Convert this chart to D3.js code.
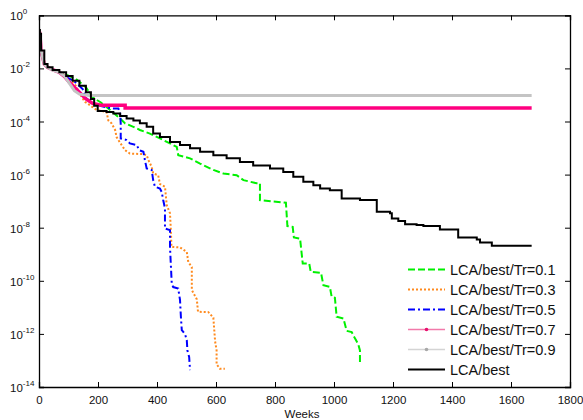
<!DOCTYPE html>
<html>
<head>
<meta charset="utf-8">
<script src="https://cdn.jsdelivr.net/npm/d3@7"></script>
<style>
  html, body { margin: 0; padding: 0; background: #fff; }
  svg { display: block; font-family: "Liberation Sans", Arial, sans-serif; }
</style>
</head>
<body>
<svg id="chart" width="583" height="420"></svg>
<script>
// Convergence of LCA/best for several transfer rates (log error vs. weeks)
const xTicks = [0, 200, 400, 600, 800, 1000, 1200, 1400, 1600, 1800];
const yTickExponents = [0, -2, -4, -6, -8, -10, -12, -14];
const seriesNames = ["LCA/best/Tr=0.1", "LCA/best/Tr=0.3", "LCA/best/Tr=0.5",
                     "LCA/best/Tr=0.7", "LCA/best/Tr=0.9", "LCA/best"];

const tr01Weeks = [0, 3, 7, 18, 29, 46, 86, 125, 159, 182, 210, 241, 275, 292, 320, 342, 376, 410, 444, 467, 472, 512, 546, 591, 625, 670, 693, 738, 749, 749, 837, 842, 860, 864, 885, 894, 916, 921, 956, 964, 986, 992, 1003, 1009, 1032, 1043, 1060, 1071, 1082, 1088, 1088];
const tr01Values = [0.28, 0.2, 0.047, 0.0145, 0.011, 9.1e-3, 6.2e-3, 4.0e-3, 1.95e-3, 8.1e-4, 5.2e-4, 2.7e-4, 1.3e-4, 8.5e-5, 6.3e-5, 4.8e-5, 3.5e-5, 2.3e-5, 1.5e-5, 1.1e-5, 5.4e-6, 4.1e-6, 2.6e-6, 1.5e-6, 1.1e-6, 9.5e-7, 6.2e-7, 4.7e-7, 4.7e-7, 1.1e-7, 8.7e-8, 1.15e-8, 1.07e-8, 4.3e-9, 3.9e-9, 4.5e-10, 4.5e-10, 2.2e-10, 2.0e-10, 6.8e-11, 5.9e-11, 2.5e-11, 2.3e-11, 4.4e-12, 3.8e-12, 1.3e-12, 1.17e-12, 6.8e-13, 4.1e-13, 2.4e-13, 8.1e-14];

const tr03Weeks = [0, 3, 7, 18, 29, 46, 69, 100, 125, 142, 156, 196, 229, 235, 246, 258, 263, 269, 280, 292, 308, 354, 365, 371, 382, 387, 404, 410, 427, 433, 444, 447, 449, 478, 501, 506, 518, 518, 535, 539, 574, 591, 597, 602, 602, 613, 630];
const tr03Values = [0.28, 0.2, 0.047, 0.0145, 0.011, 8.7e-3, 7.1e-3, 4.5e-3, 2.2e-3, 9.3e-4, 5.5e-4, 2.7e-4, 2.3e-4, 1.1e-4, 8.5e-5, 4.8e-5, 2.6e-5, 2.0e-5, 1.3e-5, 8.3e-6, 6.2e-6, 5.9e-6, 5.4e-6, 3.5e-6, 1.95e-6, 1.1e-6, 9.5e-7, 4.4e-7, 3.5e-7, 7.1e-8, 3.5e-8, 8.1e-9, 1.9e-9, 1.8e-9, 1.23e-9, 5.1e-10, 3.3e-10, 4.5e-11, 2.0e-11, 6.8e-12, 6.6e-12, 4.1e-12, 5.2e-13, 2.4e-13, 7.2e-14, 4.9e-14, 4.9e-14];

const tr05Weeks = [0, 3, 7, 18, 29, 46, 69, 86, 120, 148, 158, 180, 210, 246, 269, 275, 277, 277, 297, 308, 331, 340, 354, 359, 365, 382, 387, 393, 410, 416, 421, 427, 427, 444, 444, 450, 455, 472, 478, 481, 484, 495, 501, 503, 509, 512];
const tr05Values = [0.28, 0.2, 0.047, 0.0145, 0.011, 8.7e-3, 7.1e-3, 5.2e-3, 3.2e-3, 1.66e-3, 7.9e-4, 5.0e-4, 3.8e-4, 3.1e-4, 3.1e-4, 2.0e-4, 8.5e-5, 2.3e-5, 2.0e-5, 1.5e-5, 1.3e-5, 8.3e-6, 7.2e-6, 3.5e-6, 1.7e-6, 1.5e-6, 6.2e-7, 3.5e-7, 3.0e-7, 2.2e-7, 1.1e-7, 5.4e-8, 9.3e-9, 8.1e-9, 1.9e-9, 7.9e-11, 5.8e-11, 5.1e-11, 1.9e-11, 4.4e-12, 1.4e-12, 9.8e-13, 5.8e-13, 2.4e-13, 1.35e-13, 4.3e-14];

const tr07Weeks = [0, 3, 7, 18, 29, 46, 69, 86, 103, 137, 159, 182, 210, 292, 292, 1670];
const tr07Values = [0.28, 0.2, 0.047, 0.0145, 0.011, 8.9e-3, 7.1e-3, 5.0e-3, 3.0e-3, 1.26e-3, 7.1e-4, 4.8e-4, 4.1e-4, 4.1e-4, 3.2e-4, 3.2e-4];

const tr09Weeks = [0, 3, 7, 18, 29, 46, 69, 86, 120, 137, 171, 1670];
const tr09Values = [0.28, 0.2, 0.047, 0.0145, 0.011, 8.7e-3, 7.1e-3, 5.2e-3, 1.45e-3, 1.07e-3, 9.5e-4, 9.5e-4];

const bestWeeks = [0, 3, 7, 18, 29, 46, 69, 92, 114, 137, 159, 176, 187, 199, 229, 252, 275, 297, 320, 342, 365, 387, 410, 444, 478, 512, 546, 591, 636, 681, 726, 783, 828, 862, 896, 930, 953, 986, 1026, 1088, 1145, 1190, 1196, 1218, 1241, 1280, 1303, 1359, 1421, 1484, 1495, 1535, 1670];
const bestValues = [0.28, 0.2, 0.047, 0.0145, 0.011, 8.7e-3, 7.1e-3, 5.2e-3, 3.4e-3, 2.2e-3, 1.26e-3, 7.1e-4, 3.9e-4, 2.5e-4, 2.3e-4, 2.0e-4, 1.6e-4, 1.3e-4, 1.1e-4, 8.5e-5, 6.3e-5, 3.5e-5, 2.6e-5, 1.7e-5, 1.3e-5, 9.8e-6, 7.2e-6, 5.4e-6, 4.1e-6, 3.0e-6, 2.2e-6, 1.7e-6, 1.26e-6, 8.3e-7, 5.4e-7, 4.0e-7, 3.0e-7, 2.6e-7, 1.26e-7, 1.1e-7, 4.0e-8, 3.5e-8, 2.2e-8, 1.8e-8, 1.35e-8, 1.26e-8, 1.15e-8, 8.5e-9, 4.3e-9, 3.6e-9, 2.8e-9, 2.1e-9, 2.1e-9];

const zip = (xs, ys) => xs.map((x, i) => ({ x, y: ys[i] }));

const series = [
  { name: seriesNames[0], data: zip(tr01Weeks, tr01Values), color: "#00f000", width: 2, dash: "7,3", curve: d3.curveLinear },
  { name: seriesNames[1], data: zip(tr03Weeks, tr03Values), color: "#ff8a1e", width: 2, dash: "2,2", curve: d3.curveLinear },
  { name: seriesNames[2], data: zip(tr05Weeks, tr05Values), color: "#0000ff", width: 2, dash: "7,3,2,3", curve: d3.curveLinear },
  { name: seriesNames[3], data: zip(tr07Weeks, tr07Values), color: "#ff0080", width: 3.5, dash: null, curve: d3.curveLinear,
    legendColor: "#f27aaa", markerColor: "#e8106e" },
  { name: seriesNames[4], data: zip(tr09Weeks, tr09Values), color: "#c4c4c4", width: 3, dash: null, curve: d3.curveLinear,
    legendColor: "#d4d4d4", markerColor: "#a8a8a8" },
  { name: seriesNames[5], data: zip(bestWeeks, bestValues), color: "#000000", width: 2, dash: null, curve: d3.curveStepAfter }
];

const svg = d3.select("#chart");
const m = { left: 39, top: 15.3, right: 570, bottom: 387 };

const x = d3.scaleLinear().domain([0, 1800]).range([m.left, m.right]);
const y = d3.scaleLog().domain([1e-14, 1]).range([m.bottom, m.top]);

const plot = svg.append("g");
const clipId = "plotclip";
svg.append("defs").append("clipPath").attr("id", clipId)
  .append("rect").attr("x", m.left).attr("y", m.top)
  .attr("width", m.right - m.left).attr("height", m.bottom - m.top);

const line = d3.line().x(d => x(d.x)).y(d => y(d.y));

series.forEach(s => {
  plot.append("path")
    .datum(s.data)
    .attr("clip-path", `url(#${clipId})`)
    .attr("fill", "none")
    .attr("stroke", s.color)
    .attr("stroke-width", s.width)
    .attr("stroke-dasharray", s.dash)
    .attr("stroke-linejoin", "miter")
    .attr("d", line.curve(s.curve));
});

// Axes box with inward ticks on all four sides
const tickLen = 5;
const axisColor = "#000";
const yTickVals = yTickExponents.map(e => Math.pow(10, e));

const bottomAxis = d3.axisBottom(x).tickValues(xTicks).tickSize(-tickLen).tickPadding(9).tickFormat(d3.format("d"));
const topAxis = d3.axisTop(x).tickValues(xTicks).tickSize(-tickLen).tickFormat("");
const leftAxis = d3.axisLeft(y).tickValues(yTickVals).tickSize(-tickLen).tickFormat("");
const rightAxis = d3.axisRight(y).tickValues(yTickVals).tickSize(-tickLen).tickFormat("");

function styleAxis(g) {
  g.select(".domain").attr("stroke", axisColor).attr("stroke-width", 1.3);
  g.selectAll(".tick line").attr("stroke", axisColor).attr("stroke-width", 1);
}

svg.append("g").attr("transform", `translate(0,${m.bottom})`).call(bottomAxis).call(styleAxis)
  .call(g => g.selectAll(".tick text").attr("font-size", 11.5).attr("fill", "#111")
    .attr("font-family", "Liberation Sans, Arial, sans-serif"));
svg.append("g").attr("transform", `translate(0,${m.top})`).call(topAxis).call(styleAxis);
svg.append("g").attr("transform", `translate(${m.left},0)`).call(leftAxis).call(styleAxis);
svg.append("g").attr("transform", `translate(${m.right},0)`).call(rightAxis).call(styleAxis);

// Power-of-ten labels on the y axis
const yLabels = svg.append("g").attr("font-size", 11.5).attr("fill", "#111");
yTickExponents.forEach(e => {
  const t = yLabels.append("text")
    .attr("x", 10)
    .attr("y", y(Math.pow(10, e)) + 5);
  t.append("tspan").text("10");
  t.append("tspan").attr("dy", -6).attr("font-size", 8).text(String(e).replace("-", "-"));
});

// Axis title
svg.append("text")
  .attr("x", 302).attr("y", 418)
  .attr("text-anchor", "middle")
  .attr("font-size", 11.5)
  .attr("fill", "#111")
  .text("Weeks");

// Legend
const legend = svg.append("g");
series.forEach((s, i) => {
  const cy = 269.5 + i * 20;
  const g = legend.append("g");
  g.append("line")
    .attr("x1", 408).attr("x2", 445).attr("y1", cy).attr("y2", cy)
    .attr("stroke", s.legendColor || s.color)
    .attr("stroke-width", s.legendColor ? 1.6 : s.width)
    .attr("stroke-dasharray", s.dash);
  if (s.markerColor) {
    g.append("circle").attr("cx", 426.5).attr("cy", cy).attr("r", 1.8).attr("fill", s.markerColor);
  }
  g.append("text")
    .attr("x", 450).attr("y", cy + 5.3)
    .attr("font-size", 14.5)
    .attr("fill", "#111")
    .text(s.name);
});
</script>
</body>
</html>
